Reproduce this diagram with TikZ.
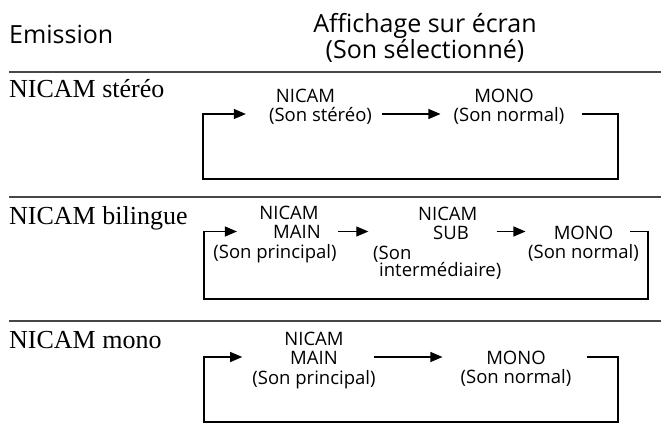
\documentclass[tikz,border=0pt]{standalone}
\usepackage{fontspec}
\setmainfont{Liberation Serif}
\setsansfont{Open Sans}
\usetikzlibrary{arrows.meta,calc}
\begin{document}
\begin{tikzpicture}[x=1pt,y=-1pt,
  lbl/.style={font=\sffamily\fontsize{18.5}{19.5}\selectfont, inner sep=0pt, align=center, anchor=north},
  head/.style={font=\sffamily\fontsize{25}{24}\selectfont, inner sep=0pt, align=center},
  sect/.style={font=\fontsize{26}{30}\selectfont, inner sep=0pt, anchor=base west},
  rule/.style={draw=black!72, line width=2pt},
  arr/.style={line width=1.1pt, -{Triangle[length=12pt,width=10pt]}}]
\useasboundingbox (0,0) rectangle (661,442);

% headers
\node[head, anchor=base west] (em) at (9,43) {Emission};
\node[head, anchor=north] (aff) at (425,13) {Affichage sur écran\\(Son sélectionné)};

% rules
\coordinate (r0a) at (9,72);  \coordinate (r0b) at (661,72);
\coordinate (r1a) at (9,197); \coordinate (r1b) at (661,197);
\coordinate (r2a) at (9,321); \coordinate (r2b) at (661,321);
\draw[rule] (r0a) -- (r0b);
\draw[rule] (r1a) -- (r1b);
\draw[rule] (r2a) -- (r2b);

% section labels
\node[sect] (t1) at (9,97.3) {NICAM stéréo};
\node[sect] (t2) at (9,224.3) {NICAM bilingue};
\node[sect] (t3) at (9,348) {NICAM mono};

% ---- section 1
\coordinate (row1) at (0,114);
\node[lbl] (s1a) at (320.5,88.5) {NICAM\hspace*{30pt}\\(Son stéréo)};
\node[lbl] (s1b) at (509,88.5) {MONO\hspace*{10pt}\\(Son normal)};
\coordinate (c1r) at (618,179);
\coordinate (c1l) at (203,179);
\draw[arr] ($(s1a.east |- row1)+(10,0)$) -- ($(s1b.west |- row1)+(-13,0)$);
\draw[arr] ($(s1b.east |- row1)+(17,0)$) -| (c1r) -- (c1l) |- ($(s1a.west |- row1)+(-23,0)$);

% ---- section 2
\coordinate (row2) at (0,231.5);
\node[lbl] (s2a) at (275,205.5) {\hspace*{28pt}NICAM\\\hspace*{44pt}MAIN\\(Son principal)};
\node[lbl, align=left, anchor=north west] (s2b) at (373,206.5) {\hspace*{45pt}NICAM\\\hspace*{60pt}SUB\\(Son\\[-2pt]\hspace*{6pt}intermédiaire)};
\node[lbl] (s2c) at (583.5,225.5) {MONO\\(Son normal)};
\coordinate (c2r) at (648,299);
\coordinate (c2l) at (204,299);
\draw[arr] ($(s2a.east |- row2)+(1,0)$) -- ($(s2b.west |- row2)+(-4.7,0)$);
\draw[arr] ($(s2b.east |- row2)+(-5,0)$) -- ($(s2c.west |- row2)+(-2.5,0)$);
\draw[arr] ($(s2c.east |- row2)+(-9,0)$) -| (c2r) -- (c2l) |- ($(s2a.west |- row2)+(23.7,0)$);

% ---- section 3
\coordinate (row3) at (0,357);
\node[lbl] (s3a) at (314,331.5) {NICAM\\MAIN\\(Son principal)};
\node[lbl] (s3b) at (516,350.5) {MONO\\(Son normal)};
\coordinate (c3r) at (618,422);
\coordinate (c3l) at (204,422);
\draw[arr] ($(s3a.east |- row3)+(-1.7,0)$) -- ($(s3b.west |- row3)+(-18,0)$);
\draw[arr] ($(s3b.east |- row3)+(15,0)$) -| (c3r) -- (c3l) |- ($(s3a.west |- row3)+(-10,0)$);
\end{tikzpicture}
\end{document}
